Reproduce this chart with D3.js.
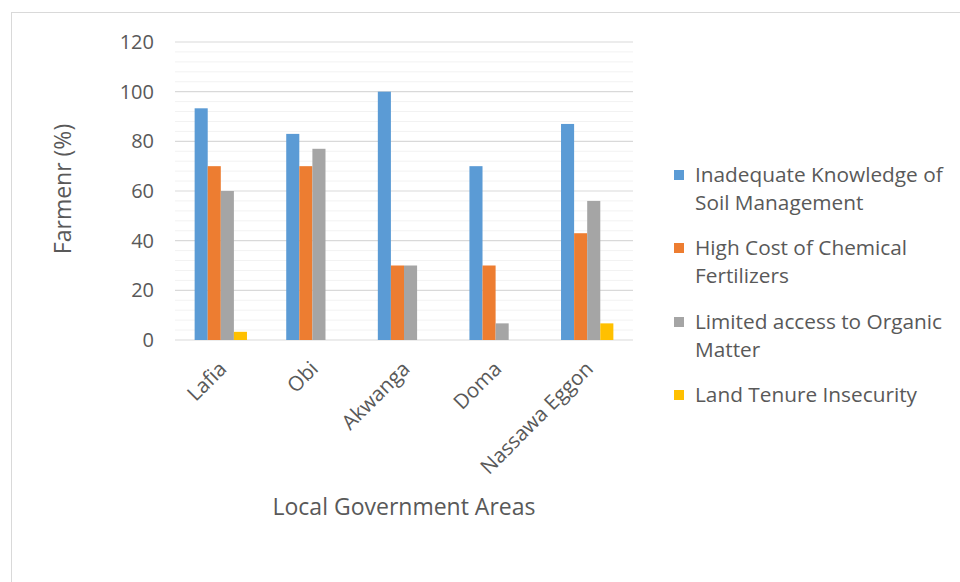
<!DOCTYPE html>
<html>
<head>
<meta charset="utf-8">
<script src="https://cdn.jsdelivr.net/npm/d3@7"></script>
<style>
  body { margin: 0; background: #fff; }
  text { font-family: "Open Sans", "Noto Sans", sans-serif; fill: #595959; }
</style>
</head>
<body>
<script>
// chart data
var categories = ["Lafia", "Obi", "Akwanga", "Doma", "Nassawa Eggon"];
var knowledge = [93.3, 83, 100, 70, 87];
var chemCost = [70, 70, 30, 30, 43];
var organic = [60, 77, 30, 6.7, 56];
var tenure = [3.3, 0, 0, 0, 6.7];
var seriesNames = ["Inadequate Knowledge of Soil Management", "High Cost of Chemical Fertilizers",
                   "Limited access to Organic Matter", "Land Tenure Insecurity"];
var legendLines = [["Inadequate Knowledge of", "Soil Management"], ["High Cost of Chemical", "Fertilizers"],
                   ["Limited access to Organic", "Matter"], ["Land Tenure Insecurity"]];
var colors = ["#5b9bd5", "#ed7d31", "#a5a5a5", "#ffc000"];
var yTicks = [0, 20, 40, 60, 80, 100, 120];

var series = [knowledge, chemCost, organic, tenure];

var svgwidth = 960, svgheight = 582;
var margin = { top: 42, left: 175 };
var width = 458, height = 298;

var svg = d3.select("body").append("svg")
    .attr("width", svgwidth)
    .attr("height", svgheight);

// chart area border (only top/left show in frame)
svg.append("rect")
    .attr("x", 11.5).attr("y", 12.5)
    .attr("width", 1000).attr("height", 1000)
    .attr("fill", "none").attr("stroke", "#d9d9d9").attr("stroke-width", 1);

var g = svg.append("g")
    .attr("transform", "translate(" + margin.left + "," + margin.top + ")");

var x0 = d3.scaleBand().domain(categories).range([0, width]);
var bw = x0.bandwidth() / 7;
var x1 = d3.scaleBand().domain(d3.range(4)).range([1.5 * bw, x0.bandwidth() - 1.5 * bw]);
var y = d3.scaleLinear().domain([0, 120]).range([height, 0]);

// minor gridlines
g.selectAll(".minor").data(d3.range(0, 121, 4).filter(function(v) { return v % 20 != 0; }))
  .enter().append("line")
    .attr("x1", 0).attr("x2", width)
    .attr("y1", function(d) { return y(d); }).attr("y2", function(d) { return y(d); })
    .attr("stroke", "#f2f2f2").attr("stroke-width", 1);

// major gridlines
g.selectAll(".major").data(yTicks)
  .enter().append("line")
    .attr("x1", 0).attr("x2", width)
    .attr("y1", function(d) { return y(d); }).attr("y2", function(d) { return y(d); })
    .attr("stroke", "#d9d9d9").attr("stroke-width", 1.2);

// bars
categories.forEach(function(c, ci) {
  var grp = g.append("g").attr("transform", "translate(" + x0(c) + ",0)");
  series.forEach(function(s, si) {
    if (s[ci] <= 0) return;
    grp.append("rect")
      .attr("x", x1(si))
      .attr("y", y(s[ci]))
      .attr("width", x1.bandwidth())
      .attr("height", height - y(s[ci]))
      .attr("fill", colors[si]);
  });
});

// y axis labels
var yAxis = g.append("g").call(d3.axisLeft(y).tickValues(yTicks).tickSize(0).tickPadding(21));
yAxis.select(".domain").remove();
yAxis.selectAll("text").style("font-size", "20px").attr("fill", "#595959")
  .style("font-family", '"Open Sans", sans-serif');

// x axis labels
g.selectAll(".xlab").data(categories)
  .enter().append("text")
    .attr("transform", function(d) { return "translate(" + (x0(d) + x0.bandwidth() / 2 + 2) + "," + (height + 25) + ") rotate(-45)"; })
    .attr("text-anchor", "end")
    .attr("dy", "0.35em")
    .style("font-size", "20.5px")
    .text(function(d) { return d; });

// axis titles
svg.append("text")
    .attr("transform", "translate(71,189) rotate(-90)")
    .attr("text-anchor", "middle")
    .style("font-size", "23px")
    .text("Farmenr (%)");

svg.append("text")
    .attr("x", 404).attr("y", 515)
    .attr("text-anchor", "middle")
    .style("font-size", "23px")
    .text("Local Government Areas");

// legend
var legendY = [182, 255, 329, 402];
var leg = svg.selectAll(".leg").data(seriesNames).enter().append("g");
leg.append("rect")
    .attr("x", 674).attr("y", function(d, i) { return legendY[i] - 12; })
    .attr("width", 10).attr("height", 10)
    .attr("fill", function(d, i) { return colors[i]; });
leg.append("text")
    .attr("x", 695).attr("y", function(d, i) { return legendY[i]; })
    .style("font-size", "20.8px")
    .each(function(d, i) {
      var t = d3.select(this);
      legendLines[i].forEach(function(line, li) {
        t.append("tspan").attr("x", 695).attr("dy", li == 0 ? 0 : 28).text(line);
      });
    });
</script>
</body>
</html>
